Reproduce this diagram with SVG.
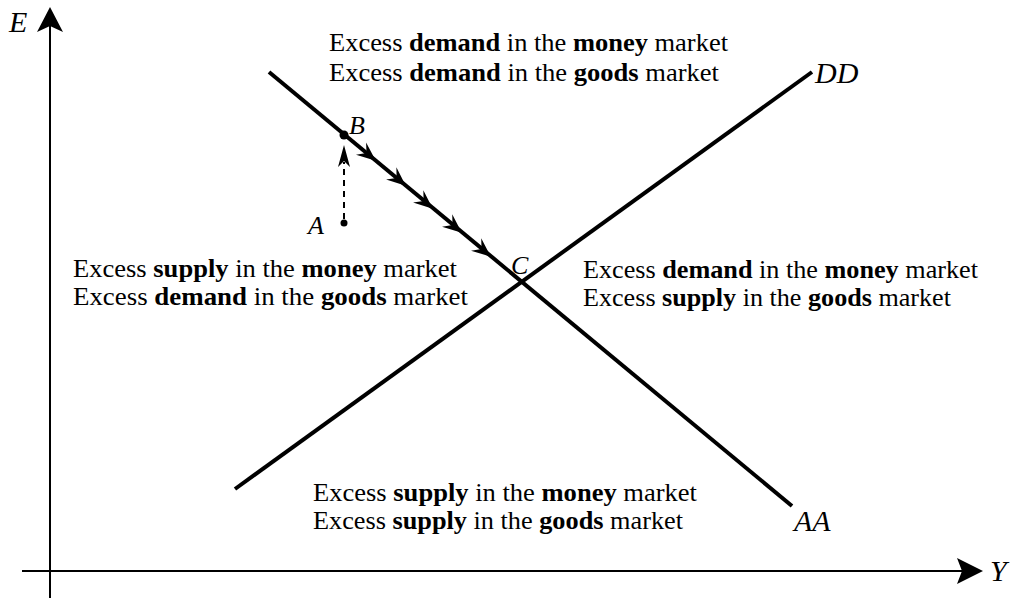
<svg xmlns="http://www.w3.org/2000/svg" width="1014" height="601" viewBox="0 0 1014 601">
<style>
.t{font-family:"Liberation Serif","Times New Roman",serif;font-size:25px;fill:#000}
.b{font-weight:bold}
.lab{font-family:"Liberation Serif","Times New Roman",serif;font-style:italic;font-size:30px;fill:#000}
.pt{font-family:"Liberation Serif","Times New Roman",serif;font-style:italic;font-size:26px;fill:#000}
.ln{stroke:#000;stroke-width:4;fill:none;stroke-linecap:butt}
.ax{stroke:#000;stroke-width:2;fill:none}
</style>
<defs>
<marker id="chev" markerUnits="userSpaceOnUse" markerWidth="24" markerHeight="24" refX="0" refY="0" viewBox="-20 -12 24 24" orient="auto" overflow="visible">
<path d="M1,0 L-18,-8 L-11,0 L-18,8 Z" fill="#000"/>
</marker>
</defs>
<g id="axes">
<line class="ax" x1="50" y1="20" x2="50" y2="598"/>
<polygon points="50,7 63,32 50,26 37,32" fill="#000"/>
<line class="ax" x1="22" y1="571" x2="970" y2="571"/>
<polygon points="983,571 957,584 962,571 957,558" fill="#000"/>
<text class="lab" x="9" y="32">E</text>
<text class="lab" x="990" y="581">Y</text>
</g>
<g id="connectors">
<line id="AA" class="ln" x1="269" y1="72" x2="792" y2="506"/>
<line id="DD" class="ln" x1="235" y1="489" x2="812" y2="72"/>
<path id="path-BC" d="M345,136 L375,160 L405,185 L432,208 L461,232 L490,256" fill="none" stroke="none" marker-mid="url(#chev)" marker-end="url(#chev)"/>
<line x1="344" y1="219" x2="344" y2="162" stroke="#000" stroke-width="2" stroke-dasharray="6,5"/>
<path d="M344,145 L350,167 L344,161 L338,167 Z" fill="#000"/>
</g>
<g id="labels">
<text class="lab" x="815" y="83">DD</text>
<text class="lab" x="794" y="531">AA</text>
</g>
<g id="point-A">
<circle cx="344" cy="223" r="3.5" fill="#000"/>
<text class="pt" x="308" y="234">A</text>
</g>
<g id="point-B">
<circle cx="344" cy="135" r="4.5" fill="#000"/>
<text class="pt" x="349" y="134">B</text>
</g>
<g id="point-C">
<text class="pt" x="511" y="274">C</text>
</g>
<g id="region-top">
<text class="t" x="329" y="51" textLength="399" lengthAdjust="spacingAndGlyphs">Excess <tspan class="b">demand</tspan> in the <tspan class="b">money</tspan> market</text>
<text class="t" x="329" y="81" textLength="390" lengthAdjust="spacingAndGlyphs">Excess <tspan class="b">demand</tspan> in the <tspan class="b">goods</tspan> market</text>
</g>
<g id="region-left">
<text class="t" x="73" y="277" textLength="384" lengthAdjust="spacingAndGlyphs">Excess <tspan class="b">supply</tspan> in the <tspan class="b">money</tspan> market</text>
<text class="t" x="73" y="305" textLength="395" lengthAdjust="spacingAndGlyphs">Excess <tspan class="b">demand</tspan> in the <tspan class="b">goods</tspan> market</text>
</g>
<g id="region-right">
<text class="t" x="583" y="278" textLength="395" lengthAdjust="spacingAndGlyphs">Excess <tspan class="b">demand</tspan> in the <tspan class="b">money</tspan> market</text>
<text class="t" x="583" y="306" textLength="368" lengthAdjust="spacingAndGlyphs">Excess <tspan class="b">supply</tspan> in the <tspan class="b">goods</tspan> market</text>
</g>
<g id="region-bottom">
<text class="t" x="313" y="501" textLength="384" lengthAdjust="spacingAndGlyphs">Excess <tspan class="b">supply</tspan> in the <tspan class="b">money</tspan> market</text>
<text class="t" x="313" y="529" textLength="370" lengthAdjust="spacingAndGlyphs">Excess <tspan class="b">supply</tspan> in the <tspan class="b">goods</tspan> market</text>
</g>
</svg>
